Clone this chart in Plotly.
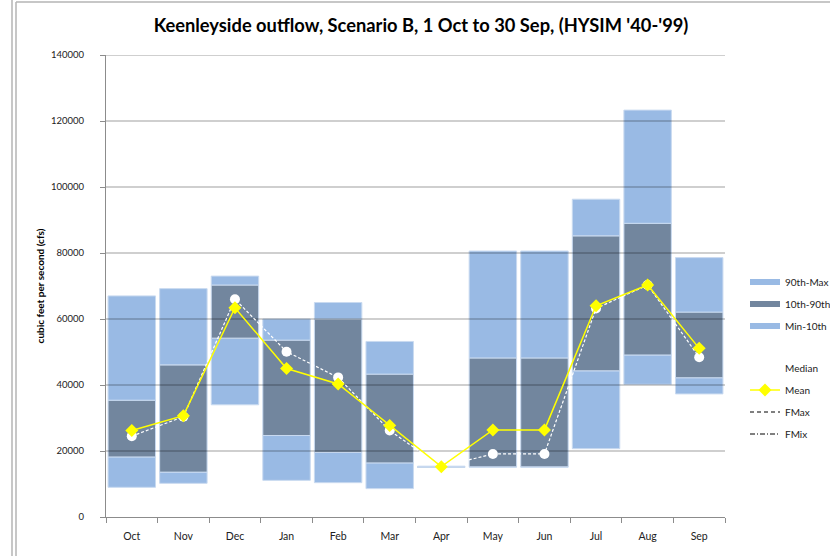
import plotly.graph_objects as go

# ---------------- data ----------------
months = ["Oct", "Nov", "Dec", "Jan", "Feb", "Mar", "Apr", "May", "Jun", "Jul", "Aug", "Sep"]
q_min = [9000, 10200, 34000, 11100, 10400, 8600, 15000, 15100, 15100, 20700, 40200, 37300]
q_p10 = [18200, 13600, 54200, 24700, 19600, 16400, 15100, 15200, 15200, 44300, 49100, 42200]
q_p90 = [35400, 46100, 70300, 53600, 60000, 43300, 15200, 48200, 48200, 85200, 89000, 62100]
q_max = [67000, 69200, 73000, 60000, 65000, 53200, 15400, 80600, 80600, 96300, 123300, 78600]
mean_vals = [26200, 30700, 63400, 45000, 40300, 27700, 15250, 26400, 26400, 64000, 70300, 51100]
median_vals = [24500, 30400, 66000, 50100, 42300, 26200, 15250, 19100, 19100, 63200, 70300, 48400]
y_ticks = [0, 20000, 40000, 60000, 80000, 100000, 120000, 140000]

title = "Keenleyside outflow, Scenario B, 1 Oct to 30 Sep, (HYSIM '40-'99)"
y_title = "cubic feet per second (cfs)"

# ---------------- styles ----------------
LIGHT = "#99BAE4"
DARK = "#72869E"
EDGE = "#C9DAF0"
FONT = "Lato"
W, H = 830, 556
ML, MR, MT, MB = 106, 105, 55, 39

xs = list(range(len(months)))
fig = go.Figure()

low = [b - a for a, b in zip(q_min, q_p10)]
mid = [b - a for a, b in zip(q_p10, q_p90)]
high = [b - a for a, b in zip(q_p90, q_max)]

for base, height, col in [(q_min, low, LIGHT), (q_p10, mid, DARK), (q_p90, high, LIGHT)]:
    fig.add_trace(go.Bar(x=xs, y=height, base=base, width=0.92,
                         marker=dict(color=col, line=dict(color=EDGE, width=1)),
                         showlegend=False, hoverinfo="skip"))

# gridlines drawn over the bars (as in the original)
gx, gy = [], []
for t in y_ticks[1:]:
    gx += [-0.5, len(months) - 0.5, None]
    gy += [t, t, None]
fig.add_trace(go.Scatter(x=gx, y=gy, mode="lines", line=dict(color="rgba(0,0,0,0.38)", width=1),
                         showlegend=False, hoverinfo="skip"))

# legend: one small legend per entry so the vertical spacing matches
legend_rows = [282, 304, 326, 368, 390, 412, 434]
legend_ids = ["legend"] + ["legend%d" % i for i in range(2, 8)]

entries = []
for name, col in [("90th-Max", LIGHT), ("10th-90th", DARK), ("Min-10th", LIGHT)]:
    entries.append(go.Scatter(x=[None], y=[None], mode="lines", name=name,
                              line=dict(color=col, width=6)))
entries.append(go.Scatter(x=xs, y=median_vals, mode="lines+markers", name="Median",
                          line=dict(color="white", width=1.2, dash="3px,2px"),
                          marker=dict(symbol="circle", size=10, color="white")))
entries.append(go.Scatter(x=xs, y=mean_vals, mode="lines+markers", name="Mean",
                          line=dict(color="#FFFF00", width=1.5),
                          marker=dict(symbol="diamond", size=10, color="#FFFF00")))
entries.append(go.Scatter(x=[None], y=[None], mode="lines", name="FMax",
                          line=dict(color="black", width=1, dash="4px,3px")))
entries.append(go.Scatter(x=[None], y=[None], mode="lines", name="FMix",
                          line=dict(color="black", width=1, dash="5px,2px,1px,2px")))

legend_layout = {}
for tr, lid, row in zip(entries, legend_ids, legend_rows):
    tr.legend = lid
    fig.add_trace(tr)
    legend_layout[lid] = dict(xref="container", yref="container",
                              x=745 / W, y=1 - row / H, xanchor="left", yanchor="middle",
                              font=dict(family=FONT, size=10, color="#222"),
                              itemwidth=30, bgcolor="rgba(0,0,0,0)", borderwidth=0)

fig.update_layout(
    width=W, height=H,
    margin=dict(l=ML, r=MR, t=MT, b=MB, autoexpand=False),
    paper_bgcolor="white", plot_bgcolor="white",
    barmode="overlay",
    font=dict(family=FONT, size=11, color="#222"),
    title=dict(text="<b>" + title + "</b>", x=421 / W, xanchor="center",
               y=1 - 26 / H, yanchor="middle",
               font=dict(family=FONT, size=18.3, color="black")),
    showlegend=True,
    **legend_layout,
)

fig.update_xaxes(range=[-0.5, len(months) - 0.5], tickmode="array", tickvals=xs, ticktext=months,
                 ticks="", showgrid=False, zeroline=False, showline=True, linecolor="#8c8c8c",
                 linewidth=1, ticklabelstandoff=9, automargin=False,
                 minor=dict(tick0=-0.5, dtick=1, ticks="outside", ticklen=5, tickcolor="#8c8c8c"),
                 tickfont=dict(family=FONT, size=10.5, color="#222"))
fig.update_yaxes(range=[0, 140000], tickmode="array", tickvals=y_ticks,
                 ticktext=[str(t) for t in y_ticks], ticks="outside",
                 ticklen=5, tickcolor="#8c8c8c", showgrid=False, zeroline=False,
                 showline=True, linecolor="#8c8c8c", linewidth=1, automargin=False,
                 ticklabelstandoff=14,
                 tickfont=dict(family=FONT, size=9.5, color="#222"),
                 title=dict(text="<b>" + y_title + "</b>", font=dict(family=FONT, size=10, color="black"),
                            standoff=4))

# outer chart frame (double left border, top border)
def px(x):
    return (x - ML) / (W - ML - MR)

def py(y):
    return (H - MB - y) / (H - MT - MB)

fig.add_shape(type="line", xref="paper", yref="paper", x0=px(12), x1=px(12), y0=py(0), y1=py(H),
              line=dict(color="#b4b4b4", width=1.5))
fig.add_shape(type="line", xref="paper", yref="paper", x0=px(16), x1=px(16), y0=py(2), y1=py(H),
              line=dict(color="#b4b4b4", width=1.5))
fig.add_shape(type="line", xref="paper", yref="paper", x0=px(16), x1=px(W), y0=py(2), y1=py(2),
              line=dict(color="#b4b4b4", width=1.5))

# remove the page's default body margin so the figure sits at the window origin
fig.write_html("out.html", config={"displayModeBar": False},
               post_script="document.body.style.margin='0';")
